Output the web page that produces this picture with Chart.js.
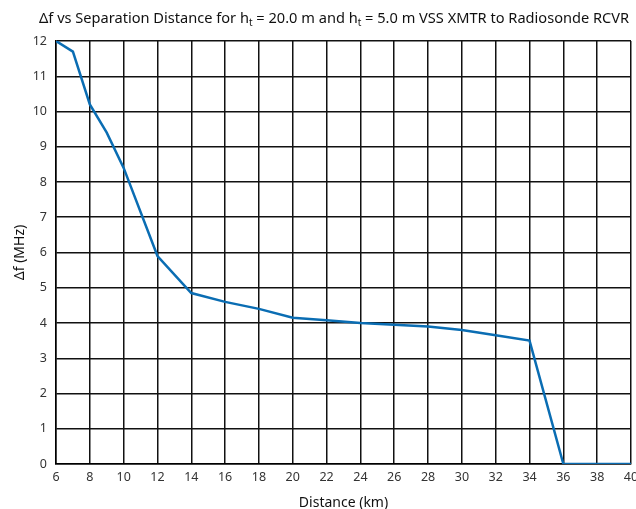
<!DOCTYPE html>
<html>
<head>
<meta charset="utf-8">
<script src="https://cdn.jsdelivr.net/npm/chart.js@4/dist/chart.umd.min.js"></script>
<style>
  html, body { margin: 0; padding: 0; background: #fff; overflow: hidden; width: 636px; height: 509px; }
  #wrap { position: relative; width: 636px; height: 509px; overflow: hidden; }
  #title {
    position: absolute; left: 39px; top: 7px; white-space: nowrap;
    font-family: "Noto Sans", sans-serif; font-size: 14.6px; color: #111;
  }
  #title sub { font-size: 10px; vertical-align: -3px; line-height: 0; }
  canvas { position: absolute; left: 0; top: 0; }
</style>
</head>
<body>
<div id="wrap">
  <canvas id="chart" width="660" height="509"></canvas>
  <div id="title">Δf vs Separation Distance for h<sub>t</sub> = 20.0 m and h<sub>t</sub> = 5.0 m VSS XMTR to Radiosonde RCVR</div>
</div>
<script>
// Separation distance (km) and frequency separation Δf (MHz)
const distanceKm = [6, 7, 8, 9, 10, 12, 14, 16, 18, 20, 22, 24, 26, 28, 30, 32, 34, 36, 38, 40];
const deltaFMHz  = [12, 11.7, 10.2, 9.4, 8.4, 5.9, 4.85, 4.6, 4.4, 4.15, 4.08, 4.0, 3.95, 3.9, 3.8, 3.65, 3.5, 0, 0, 0];

const xTitle = 'Distance (km)';
const yTitle = 'Δf (MHz)';

const points = distanceKm.map((d, i) => ({ x: d, y: deltaFMHz[i] }));

const tickFont = { family: '"Noto Sans", sans-serif', size: 12.5 };
const titleFont = { family: '"Noto Sans", sans-serif', size: 14 };

new Chart(document.getElementById('chart'), {
  type: 'line',
  data: {
    datasets: [{
      data: points,
      borderColor: '#0a6db3',
      borderWidth: 2.5,
      pointRadius: 0,
      tension: 0,
      fill: false
    }]
  },
  options: {
    responsive: false,
    animation: false,
    events: [],
    layout: { padding: { top: 41, right: 29, left: 0, bottom: 0 } },
    plugins: { legend: { display: false }, title: { display: false }, tooltip: { enabled: false } },
    scales: {
      x: {
        type: 'linear',
        min: 6, max: 40,
        border: { color: '#000', width: 1.5 },
        grid: { color: '#111', lineWidth: 1.5, drawTicks: false },
        ticks: { stepSize: 2, autoSkip: false, maxRotation: 0, padding: 6, color: '#333', font: tickFont },
        title: { display: true, text: xTitle, color: '#111', font: titleFont, padding: { top: 0, bottom: -2 } },
        afterFit: s => { s.height = 45; }
      },
      y: {
        type: 'linear',
        min: 0, max: 12,
        border: { color: '#000', width: 1.5 },
        grid: { color: '#111', lineWidth: 1.5, drawTicks: false },
        ticks: { stepSize: 1, autoSkip: false, padding: 9, color: '#333', font: tickFont },
        title: { display: true, text: yTitle, color: '#111', font: titleFont, padding: { top: 12, bottom: 0 } },
        afterFit: s => { s.width = 56; }
      }
    }
  }
});
</script>
</body>
</html>
